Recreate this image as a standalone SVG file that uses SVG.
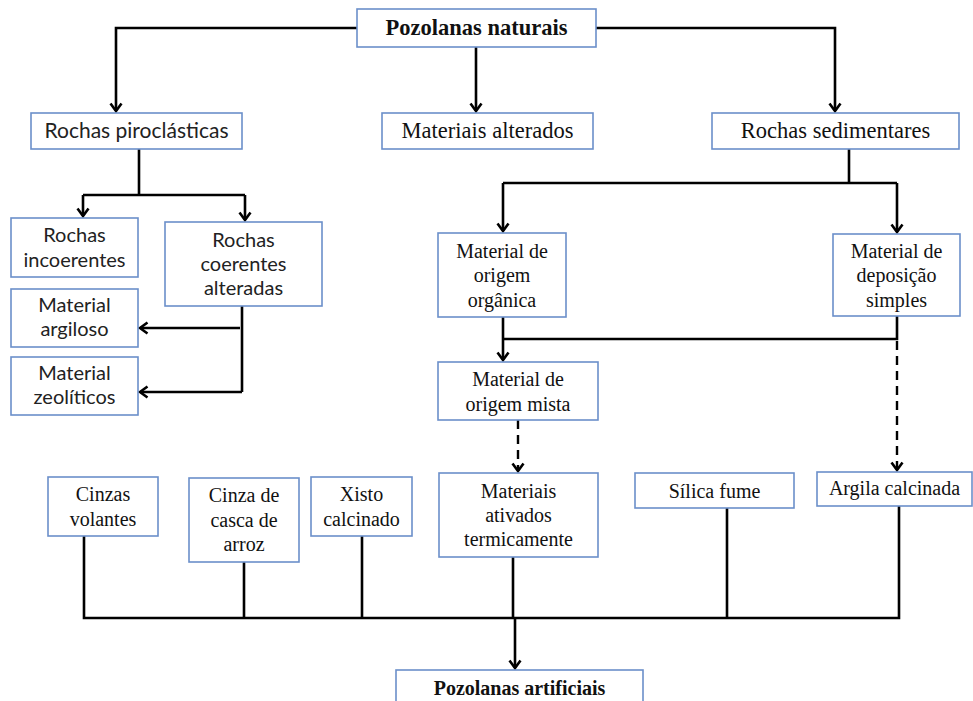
<svg xmlns="http://www.w3.org/2000/svg" width="973" height="701" viewBox="0 0 973 701">
<style>
.box{fill:#fff;stroke:#6b8fca;stroke-width:1.6}
.t{font-family:"Liberation Serif","Times New Roman",serif;font-size:20px;fill:#111;text-anchor:middle}
.tl{font-size:22.5px}
.b{font-weight:bold}
.c{font-family:Lato,"Liberation Sans",sans-serif;font-size:20px;fill:#222;text-anchor:middle}
.cl{font-size:21px}
.ln{fill:none;stroke:#000;stroke-width:2.6}
.ar{marker-end:url(#ah)}
.ds{stroke-dasharray:9,6;stroke-width:2.4}
</style>
<defs>
<marker id="ah" markerUnits="userSpaceOnUse" viewBox="0 0 14 14" markerWidth="14" markerHeight="14" refX="11" refY="7" orient="auto" overflow="visible">
<path d="M3.5,1.5 L11,7 L3.5,12.5" fill="none" stroke="#000" stroke-width="2.6"/>
</marker>
</defs>
<rect width="973" height="701" fill="#fff"/>
<g id="connectors">
<path class="ln ar" d="M357,28 H116 V111"/>
<path class="ln ar" d="M476,47 V111"/>
<path class="ln ar" d="M596,28 H835 V111"/>
<path class="ln" d="M139,149 V195 M83,195 H245"/>
<path class="ln ar" d="M83,195 V216"/>
<path class="ln ar" d="M245,195 V220"/>
<path class="ln" d="M242,306 V392"/>
<path class="ln ar" d="M240,328 H140"/>
<path class="ln ar" d="M242,392 H140"/>
<path class="ln" d="M849,149 V183 M503,183 H897"/>
<path class="ln ar" d="M503,183 V231"/>
<path class="ln ar" d="M897,183 V232"/>
<path class="ln ar" d="M503,317 V360"/>
<path class="ln" d="M503,339 H897 V316"/>
<path class="ln ds ar" d="M518,420 V471"/>
<path class="ln ds ar" d="M897,341 V470"/>
<path class="ln" d="M84,536 V618 H899 V506 M244,562 V618 M362,536 V618 M513,557 V618 M727,508 V618"/>
<path class="ln ar" d="M515,618 V668"/>
</g>
<g id="pozolanas-naturais"><rect class="box" x="357" y="9" width="239" height="38"/><text class="t tl b" x="476.5" y="35">Pozolanas naturais</text></g>
<g id="rochas-piroclasticas"><rect class="box" x="31" y="113" width="211" height="36"/><text class="c cl" x="136.5" y="138">Rochas piroclásticas</text></g>
<g id="materiais-alterados"><rect class="box" x="382" y="113" width="211" height="36"/><text class="t tl" x="487.5" y="138">Materiais alterados</text></g>
<g id="rochas-sedimentares"><rect class="box" x="712" y="113" width="247" height="36"/><text class="t tl" x="835.5" y="138">Rochas sedimentares</text></g>
<g id="rochas-incoerentes"><rect class="box" x="11" y="218" width="127" height="59"/><text class="c" x="74.5" y="242">Rochas</text><text class="c" x="74.5" y="267">incoerentes</text></g>
<g id="rochas-coerentes"><rect class="box" x="165" y="222" width="157" height="84"/><text class="c" x="243.5" y="247">Rochas</text><text class="c" x="243.5" y="271">coerentes</text><text class="c" x="243.5" y="295">alteradas</text></g>
<g id="material-argiloso"><rect class="box" x="11" y="289" width="127" height="58"/><text class="c" x="74.5" y="312">Material</text><text class="c" x="74.5" y="336">argiloso</text></g>
<g id="material-zeoliticos"><rect class="box" x="11" y="357" width="127" height="58"/><text class="c" x="74.5" y="380">Material</text><text class="c" x="74.5" y="404">zeolíticos</text></g>
<g id="origem-organica"><rect class="box" x="438" y="233" width="128" height="84"/><text class="t" x="502" y="258">Material de</text><text class="t" x="502" y="282">origem</text><text class="t" x="502" y="307">orgânica</text></g>
<g id="deposicao-simples"><rect class="box" x="833" y="234" width="127" height="82"/><text class="t" x="896.5" y="258">Material de</text><text class="t" x="896.5" y="282">deposição</text><text class="t" x="896.5" y="307">simples</text></g>
<g id="origem-mista"><rect class="box" x="438" y="362" width="160" height="58"/><text class="t" x="518" y="386">Material de</text><text class="t" x="518" y="411">origem mista</text></g>
<g id="materiais-ativados"><rect class="box" x="439" y="473" width="159" height="84"/><text class="t" x="518.5" y="498">Materiais</text><text class="t" x="518.5" y="522">ativados</text><text class="t" x="518.5" y="546">termicamente</text></g>
<g id="cinzas-volantes"><rect class="box" x="48" y="477" width="110" height="59"/><text class="t" x="103" y="501">Cinzas</text><text class="t" x="103" y="526">volantes</text></g>
<g id="cinza-casca-arroz"><rect class="box" x="189" y="478" width="110" height="84"/><text class="t" x="244" y="502">Cinza de</text><text class="t" x="244" y="527">casca de</text><text class="t" x="244" y="551">arroz</text></g>
<g id="xisto-calcinado"><rect class="box" x="311" y="477" width="101" height="59"/><text class="t" x="361.5" y="501">Xisto</text><text class="t" x="361.5" y="526">calcinado</text></g>
<g id="silica-fume"><rect class="box" x="635" y="473" width="159" height="35"/><text class="t" x="714.5" y="498">Sílica fume</text></g>
<g id="argila-calcinada"><rect class="box" x="817" y="472" width="155" height="34"/><text class="t" x="894.5" y="495">Argila calcinada</text></g>
<g id="pozolanas-artificiais"><rect class="box" x="396" y="670" width="247" height="40"/><text class="t b" x="519.5" y="695">Pozolanas artificiais</text></g>
</svg>
